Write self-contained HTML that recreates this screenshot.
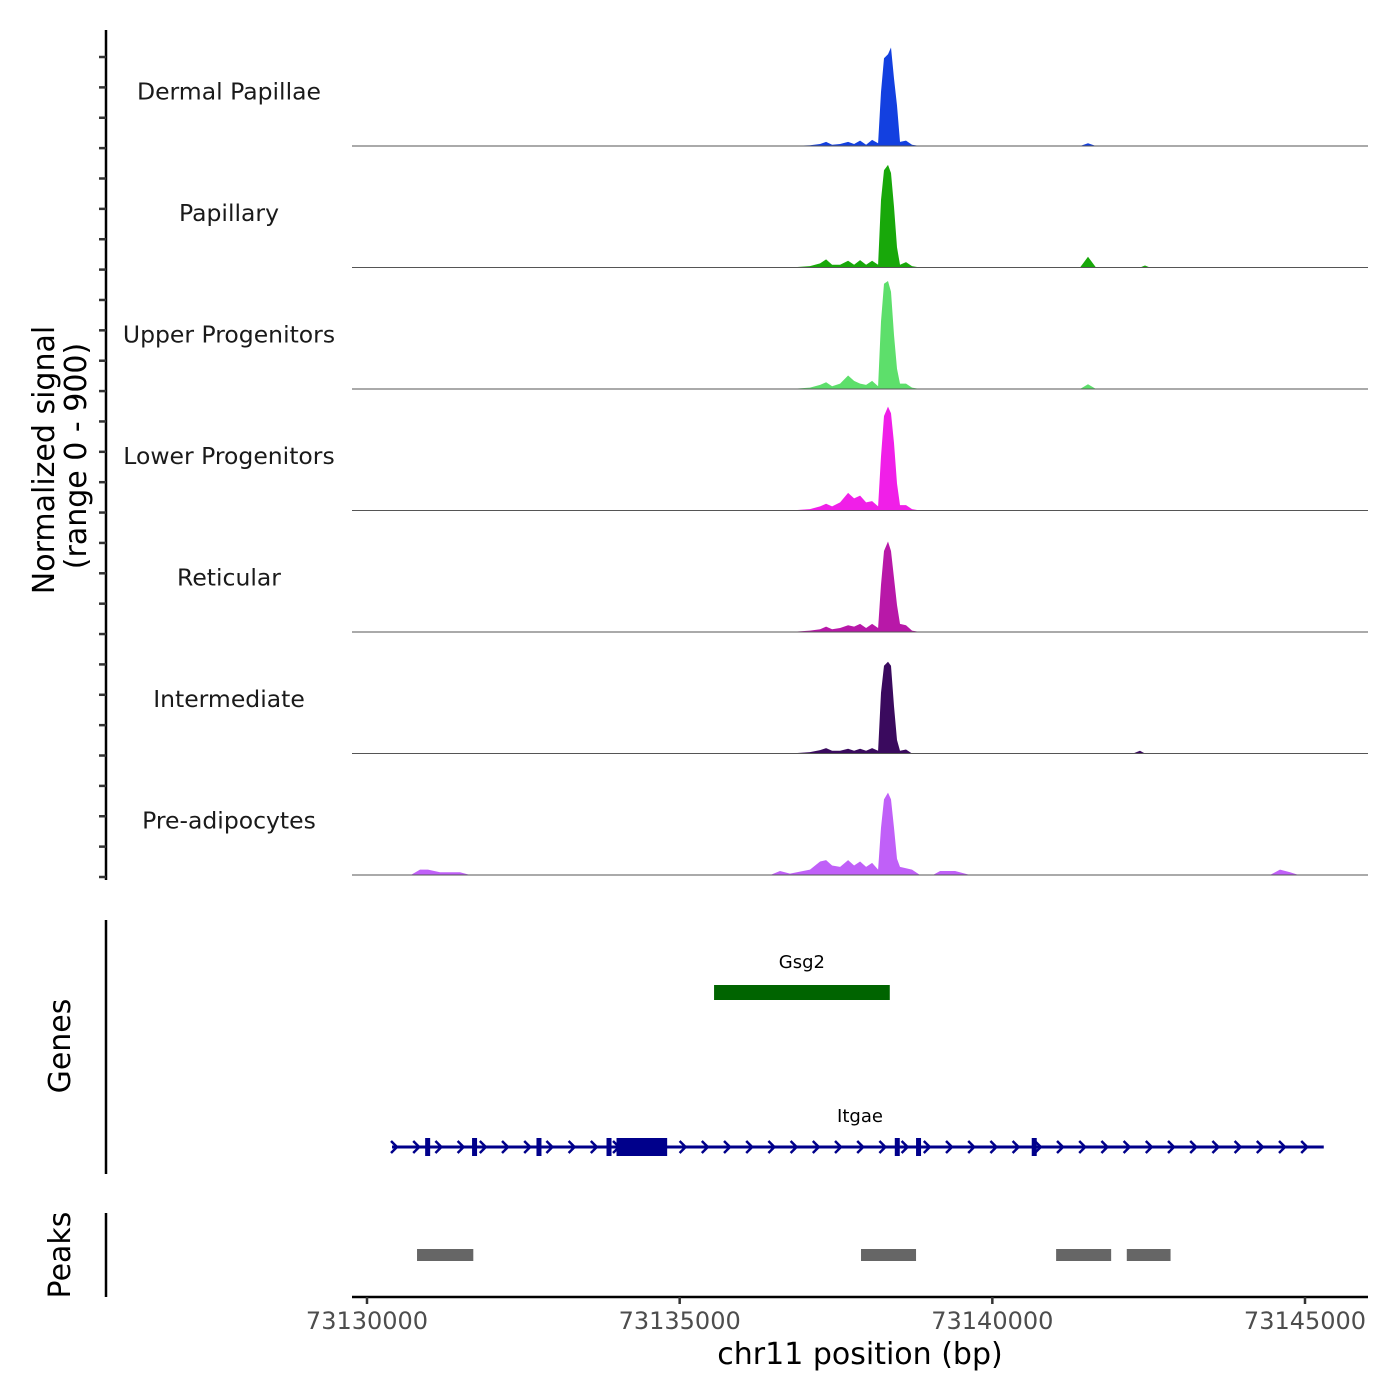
<!DOCTYPE html>
<html><head><meta charset="utf-8"><style>body{margin:0;background:#fff}svg{display:block;font-family:"DejaVu Sans","Liberation Sans",sans-serif}</style></head>
<body>
<svg id="c" width="1400" height="1400" viewBox="0 0 1400 1400"></svg>
<script>
const positions=[73129760,73130700,73130848,73130976,73131168,73131488,73131650,73135200,73135325,73136450,
73136605,73136765,73137085,73137245,73137341,73137437,73137565,73137693,73137789,73137885,73137981,73138077,73138173,73138220,73138268,73138332,73138380,73138428,73138476,73138524,73138620,73138716,73138844,
73139050,73139164,73139404,73139644,73139800,73141250,73141402,73141530,73141658,73141800,73142250,73142362,73142442,73142522,73142650,73144300,73144441,73144601,73144761,73144900,73146008];
const trackNames=["Dermal Papillae","Papillary","Upper Progenitors","Lower Progenitors","Reticular","Intermediate","Pre-adipocytes"];
const trackColors=["#1340e0","#18a80a","#5ddf6b","#f01fe8","#b818a8","#3a0a5e","#c060f8"];
const sigDP=[0,0,0,0,0,0,0,0,0,0, 0,0,5,15,30,10,15,30,15,40,10,45,20,400,650,680,730,500,300,30,40,10,0, 0,0,0,0,0,0,0,20,0,0,0,0,0,0,0,0,0,0,0,0,0];
const sigPap=[0,0,0,0,0,0,0,0,0,0, 0,0,10,30,60,20,20,50,20,55,20,50,20,500,720,760,700,450,150,20,40,10,0, 0,0,0,0,0,0,0,80,0,0,0,0,15,0,0,0,0,0,0,0,0];
const sigUpper=[0,0,0,0,0,0,0,0,0,0, 0,0,10,30,50,20,40,100,60,40,30,60,20,500,780,800,720,400,150,40,40,10,0, 0,0,0,0,0,0,0,35,0,0,0,0,0,0,0,0,0,0,0,0,0];
const sigLower=[0,0,0,0,0,0,0,0,0,0, 0,0,10,30,50,30,60,130,90,110,60,70,30,400,700,770,720,500,200,40,40,10,0, 0,0,0,0,0,0,0,0,0,0,0,0,0,0,0,0,0,0,0,0,0];
const sigRet=[0,0,0,0,0,0,0,0,0,0, 0,0,10,20,40,20,30,50,40,60,30,60,30,350,600,670,600,400,200,60,50,10,0, 0,0,0,0,0,0,0,0,0,0,0,0,0,0,0,0,0,0,0,0,0];
const sigInt=[0,0,0,0,0,0,0,0,0,0, 0,0,10,25,40,20,20,35,20,35,20,40,20,450,650,680,650,350,100,20,30,0,0, 0,0,0,0,0,0,0,0,0,0,0,20,0,0,0,0,0,0,0,0,0];
const sigPre=[0,0,40,40,20,20,0,0,0,0, 30,10,40,100,110,70,60,110,70,100,60,90,40,350,560,610,560,350,120,60,50,40,0, 0,30,30,0,0,0,0,0,0,0,0,0,0,0,0,0,0,40,20,0,0];
const signals=[sigDP,sigPap,sigUpper,sigLower,sigRet,sigInt,sigPre];
const xTicks=[73130000,73135000,73140000,73145000];
const geneNames=["Gsg2","Itgae"];
const gsg2Range=[73135550,73138360];
const itgaeRange=[73130400,73145300];
const itgaeCds=[[73133990,73134800]];
const itgaeExons=[73130970,73131720,73132750,73133870,73138480,73138820,73140670];
const peaks=[[73130800,73131700],[73137900,73138780],[73141020,73141900],[73142150,73142850]];

const NS="http://www.w3.org/2000/svg",svg=document.getElementById('c');
const X=bp=>367+(bp-73130000)*938/15000;
const trackTop=24.5,trackH=121.5,maxV=900;
function el(t,a,txt){const e=document.createElementNS(NS,t);for(const k in a)e.setAttribute(k,a[k]);if(txt!==undefined)e.textContent=txt;svg.appendChild(e);return e;}
signals.forEach((s,i)=>{
  const base=trackTop+trackH*(i+1);
  const Y=v=>base-v/maxV*trackH;
  let d=`M${X(positions[0])},${base}`;
  positions.forEach((p,j)=>{d+=` L${X(p).toFixed(1)},${Y(s[j]).toFixed(1)}`;});
  d+=` L${X(positions[positions.length-1])},${base} Z`;
  const a=el('path',{d,fill:trackColors[i]});
  
  
  const l=el('line',{x1:352,x2:1368,y1:base,y2:base,stroke:'#555','stroke-width':1});
  
  
  const t=el('text',{x:229,y:base-trackH/2+14,'text-anchor':'middle','font-size':23.5,fill:'#1a1a1a'},trackNames[i]);
  
  
});
const ax1=el('line',{x1:106,x2:106,y1:30,y2:880,stroke:'#000','stroke-width':2.5});


for(let k=0;k<28;k++){const y=877-k*30.37;const tk=el('line',{x1:99,x2:106,y1:y,y2:y,stroke:'#333','stroke-width':2.5});

}
const ax2=el('line',{x1:106,x2:106,y1:920,y2:1174,stroke:'#000','stroke-width':2.5});


const ax3=el('line',{x1:106,x2:106,y1:1213,y2:1297,stroke:'#000','stroke-width':2.5});


const yt=el('text',{transform:'translate(54,460) rotate(-90)','text-anchor':'middle','font-size':30,fill:'#000'},'Normalized signal');


const yt2=el('text',{transform:'translate(86,456) rotate(-90)','text-anchor':'middle','font-size':30,fill:'#000'},'(range 0 - 900)');


const gt=el('text',{transform:'translate(70,1046) rotate(-90)','text-anchor':'middle','font-size':30,fill:'#000'},'Genes');


const pt=el('text',{transform:'translate(70,1255) rotate(-90)','text-anchor':'middle','font-size':30,fill:'#000'},'Peaks');


const g1=el('rect',{x:X(gsg2Range[0]),y:985,width:X(gsg2Range[1])-X(gsg2Range[0]),height:15,fill:'#006400'});


const g1l=el('text',{x:(X(gsg2Range[0])+X(gsg2Range[1]))/2,y:968,'text-anchor':'middle','font-size':18,fill:'#000'},geneNames[0]);


const gy=1147,gc='#00008b';
const il=el('line',{x1:X(itgaeRange[0]),x2:X(itgaeRange[1]),y1:gy,y2:gy,stroke:gc,'stroke-width':3});


for(let x=X(itgaeRange[0])+4;x<=X(itgaeRange[1])+1;x+=22.2){const ar=el('path',{d:`M${x-5},${gy-6} L${x+1},${gy} L${x-5},${gy+6}`,stroke:gc,'stroke-width':2.5,fill:'none'});

}
itgaeCds.forEach(c=>{const r=el('rect',{x:X(c[0]),y:gy-9,width:X(c[1])-X(c[0]),height:18,fill:gc});

});
itgaeExons.forEach(e=>{const r=el('rect',{x:X(e)-2.5,y:gy-9,width:5,height:18,fill:gc});

});
const g2l=el('text',{x:860,y:1122,'text-anchor':'middle','font-size':18,fill:'#000'},geneNames[1]);


peaks.forEach(p=>{const r=el('rect',{x:X(p[0]),y:1249,width:X(p[1])-X(p[0]),height:12,fill:'#666'});

});
const xa=el('line',{x1:352,x2:1368,y1:1297,y2:1297,stroke:'#000','stroke-width':2.5});


xTicks.forEach(t=>{const x=X(t);const tk=el('line',{x1:x,x2:x,y1:1297,y2:1304,stroke:'#333','stroke-width':2.5});


const tl=el('text',{x,y:1329,'text-anchor':'middle','font-size':24,fill:'#4d4d4d'},String(t));

});
const xt=el('text',{x:860,y:1364,'text-anchor':'middle','font-size':30,fill:'#000'},'chr11 position (bp)');


</script>
</body></html>
